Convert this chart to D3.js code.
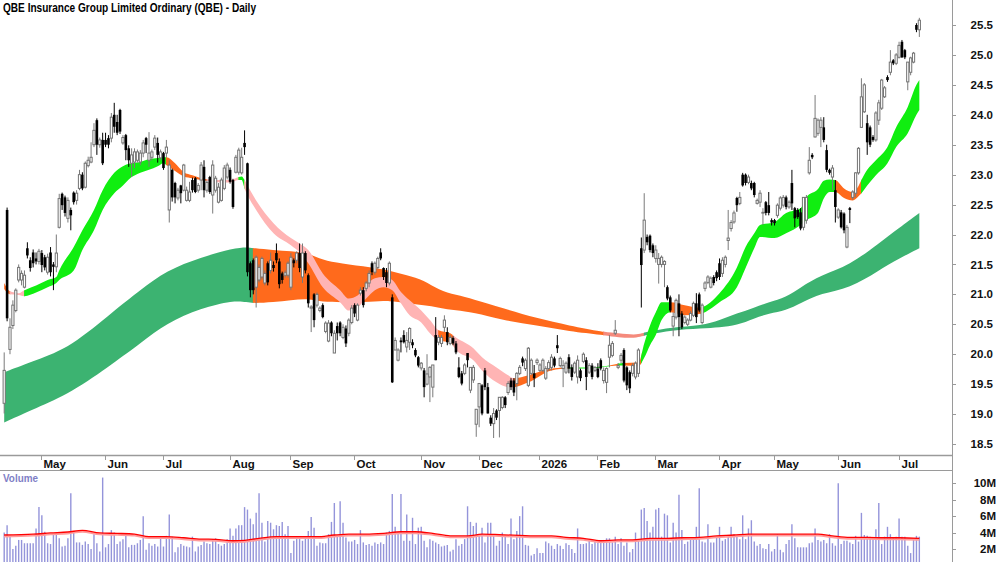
<!DOCTYPE html>
<html><head><meta charset="utf-8">
<script src="https://cdn.jsdelivr.net/npm/d3@7"></script>
<style>
html,body{margin:0;padding:0;background:#fff;}
svg{display:block;}
text{font-family:"Liberation Sans Narrow","Arial Narrow","Liberation Sans",Arial,sans-serif;font-weight:bold;}
</style></head><body>
<svg id="c" width="1000" height="562"></svg>
<script>
const title = "QBE Insurance Group Limited Ordinary (QBE) - Daily";

// daily candles [open, high, low, close]
const candles = [
[19.18,20.03,19.01,19.73],[22.41,22.45,20.55,20.6],[20.08,20.6,20.0,20.45],[20.48,20.9,20.42,20.82],[20.73,21.1,20.7,21.07],
[21.24,21.5,21.2,21.45],[21.24,21.4,21.15,21.35],[21.12,21.4,21.1,21.32],[21.77,21.87,21.6,21.65],[21.57,21.62,21.38,21.44],
[21.7,21.75,21.45,21.52],[21.6,21.7,21.5,21.55],[21.55,21.76,21.5,21.72],[21.69,21.74,21.37,21.49],[21.62,21.66,21.4,21.45],
[21.37,21.68,21.33,21.62],[21.7,21.79,21.3,21.37],[21.5,21.54,21.07,21.46],[21.46,22.0,21.37,21.69],[22.12,22.68,22.1,22.6],
[22.68,22.7,22.41,22.49],[22.62,22.65,22.3,22.36],[22.27,22.62,22.2,22.57],[22.41,22.45,22.07,22.32],[22.7,22.72,22.5,22.54],
[22.57,22.74,22.5,22.69],[22.77,23.08,22.74,23.0],[23.0,23.04,22.74,22.77],[22.79,23.22,22.77,23.19],[23.15,23.3,23.12,23.24],
[23.21,23.54,23.19,23.29],[23.5,23.86,23.46,23.74],[23.91,23.94,23.33,23.5],[23.5,23.62,23.45,23.58],[23.58,23.7,23.16,23.19],
[23.58,23.7,23.46,23.5],[23.61,23.66,23.44,23.5],[23.61,24.03,23.54,23.96],[24.0,24.2,23.7,23.8],[23.88,24.0,23.66,23.7],
[24.08,24.1,23.68,23.72],[23.53,23.66,23.5,23.62],[23.66,23.68,23.24,23.41],[23.44,23.49,23.13,23.24],[23.19,23.44,22.96,23.33],
[23.21,23.44,23.11,23.38],[23.24,23.42,23.2,23.38],[23.21,23.41,23.16,23.36],[23.36,23.58,23.29,23.53],[23.61,23.63,23.36,23.5],
[23.24,23.71,23.13,23.36],[23.29,23.42,23.24,23.38],[23.46,23.66,23.41,23.61],[23.53,23.62,23.2,23.33],[23.28,23.42,23.24,23.38],
[23.36,23.38,23.08,23.11],[23.36,23.58,23.29,23.46],[22.41,23.24,22.2,23.16],[23.08,23.1,22.55,22.62],[22.86,22.88,22.52,22.62],
[22.61,22.78,22.57,22.74],[22.82,22.83,22.52,22.69],[22.74,23.18,22.72,23.16],[22.57,22.8,22.55,22.74],[22.57,22.88,22.54,22.71],
[22.91,22.95,22.7,22.74],[22.94,22.96,22.69,22.71],[22.74,22.86,22.7,22.82],[22.91,23.21,22.74,23.16],[23.13,23.24,22.62,22.74],
[22.74,22.9,22.7,22.87],[22.96,22.98,22.68,22.71],[22.66,23.24,22.35,23.16],[22.74,22.98,22.7,22.94],[22.54,22.86,22.52,22.79],
[22.57,22.95,22.55,22.91],[22.77,23.16,22.74,23.11],[22.96,23.2,22.92,23.16],[23.08,23.12,22.85,22.88],[22.91,22.93,22.43,22.46],
[23.04,23.33,23.02,23.29],[23.04,23.45,23.0,23.41],[23.03,23.45,23.0,23.29],[23.53,23.74,23.33,23.46],[23.19,23.2,21.3,21.37],
[21.52,21.55,20.95,21.07],[21.57,21.6,21.0,21.07],[21.12,21.65,20.78,21.62],[21.24,21.5,21.2,21.45],[21.29,21.63,21.25,21.6],
[21.19,21.4,21.15,21.35],[21.52,21.55,21.15,21.2],[21.4,21.7,21.35,21.57],[21.49,21.55,21.38,21.44],[21.69,21.85,21.52,21.57],
[21.55,21.6,21.1,21.17],[21.35,21.38,21.18,21.24],[21.32,21.4,21.28,21.36],[21.32,21.55,21.28,21.52],[21.12,21.69,21.07,21.62],
[21.57,21.6,21.45,21.52],[21.57,21.72,21.52,21.69],[21.69,21.85,21.37,21.44],[21.29,21.85,21.19,21.69],[21.69,21.72,21.35,21.4],
[21.32,21.35,20.78,20.85],[20.77,20.82,20.37,20.79],[21.0,21.02,20.45,20.57],[20.82,21.03,20.78,21.0],[20.73,20.8,20.7,20.77],
[20.82,20.85,20.6,20.62],[20.38,20.55,20.35,20.52],[20.22,20.57,20.2,20.52],[20.53,20.55,20.3,20.35],[20.02,20.4,20.02,20.35],
[20.47,20.53,20.23,20.35],[20.53,20.55,20.3,20.35],[20.28,20.5,20.25,20.45],[20.43,20.48,20.12,20.18],[20.35,20.6,20.3,20.57],
[20.53,20.82,20.5,20.77],[20.82,20.85,20.62,20.68],[20.57,20.85,20.55,20.82],[21.02,21.12,20.98,21.07],[21.07,21.12,20.78,20.82],
[21.1,21.22,21.05,21.19],[21.19,21.4,21.12,21.35],[21.52,21.55,21.32,21.37],[21.37,21.55,21.33,21.52],[21.45,21.63,21.42,21.6],
[21.7,21.77,21.57,21.6],[21.44,21.45,21.24,21.29],[21.37,21.44,21.12,21.19],[21.19,21.55,21.15,21.52],[20.95,21.0,19.52,19.53],
[20.07,20.28,20.07,20.23],[19.9,20.1,19.88,20.07],[20.23,20.28,20.03,20.2],[20.32,20.4,20.18,20.2],[20.12,20.37,20.03,20.23],
[20.2,20.45,20.07,20.43],[20.2,20.25,20.1,20.15],[20.07,20.1,19.95,19.98],[19.95,19.97,19.78,19.81],[19.77,19.87,19.73,19.85],
[19.73,19.77,19.28,19.45],[19.5,20.0,19.48,19.67],[19.62,19.8,19.2,19.78],[19.45,19.82,19.28,19.82],[20.32,20.62,19.9,19.9],
[20.2,20.32,20.15,20.28],[20.18,20.32,20.12,20.28],[20.45,20.65,20.37,20.57],[20.37,20.45,20.15,20.2],[20.18,20.32,20.15,20.28],
[20.27,20.3,20.15,20.18],[20.18,20.22,20.0,20.03],[19.78,19.95,19.6,19.62],[19.68,19.72,19.48,19.51],[19.68,19.85,19.65,19.82],
[20.02,20.02,19.78,19.9],[19.4,19.78,19.35,19.78],[19.57,19.82,19.52,19.78],[18.83,19.08,18.62,19.08],[19.12,19.52,18.78,19.51],
[19.48,19.5,18.98,19.01],[19.73,19.77,19.4,19.45],[19.45,19.52,19.01,19.01],[18.94,18.98,18.8,18.84],[18.84,19.1,18.6,19.01],
[19.06,19.08,18.9,18.94],[19.06,19.28,18.61,19.28],[19.11,19.3,19.08,19.28],[19.28,19.3,19.1,19.15],[19.36,19.55,19.32,19.51],
[19.56,19.6,19.4,19.45],[19.56,19.6,19.3,19.36],[19.51,19.7,19.23,19.68],[19.68,19.82,19.65,19.78],[19.93,19.96,19.8,19.86],
[19.76,19.93,19.72,19.9],[19.48,20.12,19.45,20.1],[19.68,19.93,19.65,19.9],[19.68,19.82,19.45,19.6],[19.86,19.93,19.82,19.9],
[19.73,19.85,19.7,19.82],[19.73,19.93,19.7,19.9],[19.6,19.8,19.57,19.76],[19.76,19.9,19.72,19.86],[19.78,20.0,19.73,19.95],
[19.93,19.96,19.78,19.81],[20.15,20.32,20.02,20.1],[19.81,19.96,19.78,19.93],[19.76,19.9,19.45,19.81],[19.7,19.88,19.67,19.85],
[19.95,20.0,19.68,19.76],[19.78,19.83,19.56,19.62],[19.7,19.88,19.67,19.85],[19.62,19.98,19.51,19.9],[19.73,19.76,19.55,19.6],
[19.88,20.03,19.85,20.0],[19.9,19.95,19.4,19.62],[19.7,19.85,19.67,19.81],[19.81,19.85,19.58,19.62],[19.73,19.8,19.7,19.78],
[19.76,19.85,19.6,19.62],[19.9,19.93,19.73,19.76],[19.56,19.78,19.51,19.73],[19.53,19.78,19.35,19.76],[19.95,20.32,19.78,20.15],
[19.98,20.22,19.95,20.18],[20.35,20.57,20.32,20.4],[19.78,19.85,19.75,19.81],[19.9,20.02,19.85,19.98],[20.07,20.1,19.53,19.56],
[19.78,19.8,19.4,19.48],[19.7,19.73,19.35,19.43],[19.68,19.85,19.63,19.81],[19.62,19.88,19.58,19.85],[19.68,20.1,19.62,20.07],
[21.77,21.95,20.78,21.49],[21.74,22.69,21.69,22.24],[21.96,22.0,21.82,21.87],[21.98,22.0,21.7,21.74],[21.82,21.85,21.62,21.69],
[21.6,21.82,21.53,21.74],[21.5,21.69,21.18,21.6],[21.5,21.65,21.45,21.62],[21.5,21.57,21.12,21.55],[21.12,21.15,20.9,20.93],
[20.95,20.98,20.7,20.73],[20.47,20.7,20.3,20.63],[20.62,20.93,20.58,20.9],[20.85,21.0,20.3,20.62],[20.68,20.72,20.42,20.45],
[20.53,20.65,20.5,20.62],[20.5,20.6,20.47,20.57],[20.57,20.72,20.55,20.68],[20.65,20.88,20.62,20.85],[20.85,21.02,20.52,20.62],
[21.0,21.03,20.7,20.73],[20.53,20.85,20.5,20.82],[21.1,21.22,21.05,21.19],[21.2,21.32,21.17,21.29],[21.12,21.3,21.1,21.27],
[21.29,21.32,21.15,21.19],[21.37,21.4,21.22,21.27],[21.52,21.6,21.24,21.29],[21.35,21.62,21.29,21.57],[21.5,21.65,21.45,21.62],
[21.9,22.41,21.74,21.94],[22.1,22.24,22.05,22.2],[22.21,22.4,22.18,22.36],[22.61,22.63,22.38,22.49],[22.52,22.71,22.49,22.62],
[23.0,23.03,22.8,22.82],[23.0,23.02,22.82,22.86],[22.87,23.0,22.84,22.96],[22.86,22.9,22.74,22.77],[22.86,22.88,22.62,22.66],
[22.52,22.6,22.5,22.57],[22.54,22.74,22.46,22.69],[22.36,22.44,22.16,22.37],[22.54,22.56,22.32,22.36],[22.49,22.71,22.32,22.36],
[22.24,22.27,22.15,22.2],[22.24,22.26,22.15,22.19],[22.32,22.52,22.28,22.49],[22.44,22.64,22.4,22.61],[22.49,22.66,22.45,22.62],
[22.62,22.65,22.42,22.46],[22.46,22.57,22.43,22.54],[22.86,23.08,22.41,22.52],[22.44,22.46,22.12,22.27],[22.41,22.44,22.26,22.29],
[22.37,22.44,22.07,22.1],[22.12,22.62,22.07,22.62],[22.24,22.66,22.18,22.62],[23.03,23.46,23.0,23.24],[23.33,23.36,23.26,23.29],
[23.63,24.33,23.62,23.94],[23.69,23.94,23.65,23.91],[23.79,23.96,23.46,23.91],[23.79,23.96,23.54,23.58],[23.41,23.5,23.04,23.08],
[23.08,23.1,23.0,23.03],[22.96,23.16,22.74,23.11],[22.74,22.91,22.2,22.46],[22.29,22.44,22.26,22.41],[22.37,22.41,22.1,22.12],
[22.35,22.37,22.02,22.07],[21.79,22.16,21.77,22.12],[22.44,22.46,22.19,22.41],[22.62,22.74,22.58,22.71],[22.69,23.04,22.62,23.03],
[23.03,23.46,23.0,23.44],[23.79,24.61,23.78,24.3],[24.05,24.53,24.03,24.5],[23.86,24.0,23.33,23.54],[23.79,23.82,23.46,23.5],
[23.63,23.66,23.55,23.58],[23.58,24.06,23.55,24.03],[23.91,24.25,23.83,24.2],[24.11,24.6,24.08,24.58],[24.3,24.48,24.28,24.45],
[24.63,24.66,24.55,24.58],[24.71,25.08,24.66,24.88],[24.91,24.93,24.83,24.86],[24.86,25.03,24.83,25.0],[24.96,25.22,24.94,25.16],
[25.22,25.25,24.95,24.96],[25.08,25.1,24.93,24.96],[24.55,24.88,24.41,24.88],[24.71,24.97,24.66,24.95],[24.88,25.05,24.86,25.03],
[25.5,25.53,25.38,25.42],[25.42,25.62,25.3,25.58]
];

// daily volume, millions of shares
const volumes = [
4.0,4.9,3.6,2.0,2.4,3.1,3.1,2.7,2.7,2.7, 2.7,4.5,7.1,6.1,4.1,2.7,2.6,3.7,4.0,3.3,
2.3,2.4,3.3,8.8,4.2,2.8,2.8,2.5,2.9,2.6, 2.0,3.8,2.7,1.7,10.7,2.2,2.6,4.3,4.0,2.6,
2.9,3.2,3.9,2.2,2.5,2.5,2.7,3.1,6.0,1.9, 2.7,2.4,2.6,2.3,3.3,2.3,3.6,6.2,3.5,1.6,
2.2,2.6,2.4,2.3,2.2,3.5,1.7,2.3,2.5,2.9, 2.7,2.6,3.2,3.3,2.6,2.4,2.6,3.2,4.5,3.6,
4.5,4.9,4.9,7.1,6.8,5.7,5.0,6.4,8.8,5.2, 2.9,5.4,5.2,4.4,4.9,4.8,5.3,3.8,4.8,1.5,
3.0,3.3,3.3,3.0,3.4,4.2,5.9,4.6,2.4,2.8, 2.7,2.7,3.8,5.3,7.6,3.6,7.8,5.2,3.4,2.9,
2.9,3.1,2.6,4.3,2.8,2.5,2.6,2.4,2.8,2.6, 2.8,2.6,4.0,4.2,8.7,4.7,4.0,8.7,3.0,6.2,
3.0,5.8,2.6,4.6,4.7,3.0,2.2,3.2,3.0,2.8, 2.6,2.3,2.4,2.5,1.7,1.9,3.2,2.4,2.6,3.2,
7.2,5.3,4.8,5.2,3.7,4.6,2.8,5.2,5.2,3.8, 2.4,3.0,
4.0,3.6,2.6,5.7,3.2,4.2,6.0,7.2,2.5,2.4, 1.2,1.4,2.1,1.5,1.5,2.9,2.7,2.4,2.0,2.6,
2.4,2.0,2.7,2.5,2.0,1.5,4.5,2.6,2.6,2.7, 3.2,2.6,2.9,2.8,2.9,3.1,3.3,3.3,2.8,3.5,
2.6,3.3,2.4,2.8,1.6,2.0,4.0,3.0,6.8,7.0, 5.4,4.0,4.7,6.8,7.0,3.5,6.3,6.1,2.8,5.2,
4.0,8.6,4.3,2.6,2.9,3.1,3.2,4.7,9.4,2.9, 2.8,5.0,2.8,2.8,3.4,4.7,3.0,3.2,3.6,4.7,
3.8,3.6,3.2,6.1,3.2,4.5,5.5,2.9,2.4,2.6, 2.1,2.0,2.6,1.7,2.0,3.8,1.9,1.6,2.6,3.1,
5.0,3.3,2.2,2.2,2.2,2.2,2.7,2.8,4.5,3.1, 2.9,3.1,2.7,3.8,2.7,2.4,10.0,2.6,3.0,3.0,
2.8,2.6,3.6,2.9,6.4,3.7,3.6,3.5,3.2,4.4, 7.6,2.6,3.5,4.7,3.8,3.4,3.5,5.7,3.5,3.5,
2.4,1.5,3.1,3.6,3.5
];

// volume moving average [day index, millions]
const volMA = [[0,3.7],[10,3.8],[16,3.95],[22,4.07],[27,4.27],[33,3.95],[39,3.9],[45,3.82],[50,3.5],[56,3.5],
[62,3.37],[68,3.2],[73,3.18],[79,3.0],[83,3.05],[88,3.3],[94,3.5],[102,3.5],[108,3.5],[114,3.7],[119,3.8],
[125,3.8],[131,3.9],[137,4.1],[142,4.1],[148,3.9],[154,3.6],[160,3.6],[165,3.8],[171,3.75],[183,3.6],
[189,3.6],[194,3.42],[200,3.3],[206,3.0],[212,3.1],[217,3.1],[223,3.3],[229,3.3],[234,3.37],[240,3.42],
[246,3.6],[252,3.7],[257,3.82],[263,3.8],[269,3.8],[275,3.8],[281,3.8],[286,3.6],[292,3.42],[298,3.42],
[304,3.37],[309,3.37],[316,3.3]];

// short-term average ribbon [day index, upper, lower]
const stBand = [[0,21.19,21.09],[2,21.05,21.0],[5,21.02,20.99],[7,21.07,20.97],[11,21.15,21.03],[15,21.24,21.12],
[18,21.29,21.19],[19,21.4,21.24],[24,21.79,21.4],[27,22.07,21.74],[31,22.41,22.07],[34,22.74,22.41],[38,23.03,22.69],
[41,23.14,22.82],[43,23.18,22.92],[47,23.21,23.03],[50,23.26,23.08],[53,23.28,23.14],[55,23.29,23.19],[56,23.29,23.16],
[59,23.19,23.06],[62,23.04,22.97],[65,22.99,22.94],[68,22.94,22.91],[71,22.92,22.89],[75,22.91,22.87],[78,22.91,22.87],
[81,22.96,22.91],[82,22.97,22.91],[83,22.91,22.77],[84,22.82,22.66],[87,22.57,22.41],[93,22.19,22.02],[99,21.94,21.82],
[102,21.85,21.7],[105,21.74,21.52],[110,21.35,21.12],[116,21.07,20.87],[119,20.93,20.73],[122,20.98,20.78],
[125,21.15,20.93],[128,21.27,21.07],[131,21.29,21.12],[134,21.24,21.07],[137,21.04,20.85],[140,20.9,20.65],
[144,20.73,20.53],[147,20.57,20.35],[150,20.4,20.23],[154,20.35,20.2],[156,20.28,20.07],[162,20.1,19.9],
[165,19.95,19.73],[170,19.78,19.53],[174,19.65,19.45],[176,19.6,19.45],[181,19.65,19.53],[189,19.76,19.73],
[195,19.78,19.76],[202,19.78,19.76],[209,19.81,19.8],[213,19.85,19.81],[219,19.86,19.8],[221,20.18,19.94],
[223,20.48,20.15],[225,20.7,20.32],[227,20.87,20.57],[230,20.87,20.7],[235,20.82,20.65],[240,20.78,20.67],
[247,21.02,20.87],[253,21.45,21.12],[256,21.79,21.44],[259,22.02,21.77],[261,22.16,21.96],[266,22.21,21.94],
[270,22.36,22.02],[275,22.44,22.16],[277,22.62,22.24],[281,22.76,22.36],[283,22.9,22.6],[285,22.92,22.71],
[287,22.91,22.71],[290,22.77,22.61],[293,22.71,22.57],[295,22.81,22.64],[296,22.91,22.69],[298,23.08,22.82],
[301,23.24,22.99],[305,23.46,23.19],[308,23.79,23.46],[312,24.13,23.69],[315,24.5,24.0],[316,24.58,24.08]];

// long-term average ribbon [day index, upper, lower]
const ltBand = [[0,19.7,18.86],[11,19.9,19.1],[23,20.12,19.35],[38,20.73,19.86],[47,21.07,20.18],[56,21.4,20.52],
[68,21.62,20.77],[79,21.77,20.9],[84,21.79,20.87],[86,21.77,20.85],[93,21.74,20.87],[99,21.72,20.9],[105,21.69,20.93],
[110,21.57,20.87],[116,21.52,20.87],[127,21.45,20.87],[133,21.4,20.9],[139,21.32,20.85],[145,21.24,20.82],
[150,21.07,20.78],[156,20.99,20.73],[162,20.92,20.7],[172,20.77,20.57],[184,20.6,20.48],[195,20.48,20.38],
[207,20.37,20.32],[212,20.35,20.28],[218,20.32,20.27],[220,20.35,20.3],[223,20.38,20.33],[230,20.45,20.4],
[241,20.48,20.43],[247,20.57,20.45],[253,20.68,20.48],[259,20.78,20.6],[264,20.87,20.68],[270,20.95,20.73],
[275,21.12,20.85],[282,21.32,21.02],[292,21.49,21.1],[302,21.85,21.4],[309,22.11,21.6],[316,22.36,21.77]];

// ribbon colour phases [from day, to day, state]
const stPhases = [[0,2,"down"],[2,7,"weak"],[7,56,"up"],[56,70,"down"],[70,81,"weak"],[81,83,"up"],[83,150,"weak"],
[150,155,"down"],[155,176,"weak"],[176,195,"down"],[195,209,"up"],[209,212,"down"],[212,214,"up"],[214,220,"down"],
[220,230,"up"],[230,241,"down"],[241,287,"up"],[287,296,"down"],[296,316,"up"]];
const ltPhases = [[0,86,"up"],[86,207,"down"],[207,221,"weak"],[221,316,"up"]];

const monthLabels = ["May","Jun","Jul","Aug","Sep","Oct","Nov","Dec","2026","Feb","Mar","Apr","May","Jun","Jul"];
const monthStartIdx = [14,36,56,79,100,122,145,165,186,206,226,248,267,289,310];
const priceTicks = [18.5,19.0,19.5,20.0,20.5,21.0,21.5,22.0,22.5,23.0,23.5,24.0,24.5,25.0,25.5];
const volTicks = [2,4,6,8,10];
const volTickLabels = ["2M","4M","6M","8M","10M"];

const stColor = {up:"#10ee10", down:"#ff6a1c", weak:"#ffb4b4"};
const ltColor = {up:"#3cb371", down:"#ff6a1c", weak:"#f58a7c"};

const svg = d3.select("#c");
const W = 1000, H = 562;
const axisX = 952;
const priceBottom = 455, volTop = 470;

const x = d3.scaleLinear().domain([0, 316]).range([4.2, 4.2 + 2.896*316]);
const y = d3.scaleLinear().domain([18.5, 25.5]).range([444, 25]);
const yv = d3.scaleLinear().domain([0, 10]).range([565.4, 483.3]);

svg.append("rect").attr("width", W).attr("height", H).attr("fill", "#fff");

const defs = svg.append("defs");
defs.append("clipPath").attr("id","pclip").append("rect").attr("x",0).attr("y",0).attr("width",axisX).attr("height",priceBottom);
defs.append("clipPath").attr("id","vclip").append("rect").attr("x",0).attr("y",volTop+1).attr("width",axisX).attr("height",H-volTop);

const price = svg.append("g").attr("clip-path","url(#pclip)");

function drawBand(band, phases, colors, key, curve){
  const area = d3.area().x(d=>x(d[0])).y0(d=>y(d[2])).y1(d=>y(d[1])).curve(curve);
  const pathD = area(band);
  phases.forEach((p, k) => {
    const id = key + k;
    const x0 = x(p[0]) - (k === 0 ? 10 : 0.4), x1 = x(p[1]) + (k === phases.length-1 ? 10 : 0.4);
    defs.append("clipPath").attr("id", id).append("rect")
      .attr("x", x0).attr("y", 0).attr("width", x1 - x0).attr("height", priceBottom);
    price.append("path").attr("d", pathD).attr("fill", colors[p[2]]).attr("clip-path", `url(#${id})`);
  });
}
drawBand(ltBand, ltPhases, ltColor, "lt", d3.curveBasis);
drawBand(stBand, stPhases, stColor, "st", d3.curveMonotoneX);

// candles
const cg = price.append("g");
candles.forEach((d, i) => {
  const [o, h, l, c] = d;
  const cx = x(i);
  const up = c >= o;
  cg.append("line").attr("x1", cx).attr("x2", cx).attr("y1", y(h)).attr("y2", y(l))
    .attr("stroke", up ? "#7a7a7a" : "#000").attr("stroke-width", 1);
  if (up) {
    const t = y(c), b = y(o);
    cg.append("rect").attr("x", cx - 1.1).attr("y", t).attr("width", 2.2).attr("height", Math.max(0.8, b - t))
      .attr("fill", "#fff").attr("stroke", "#737373").attr("stroke-width", 1);
  } else {
    const t = y(o), b = y(c);
    cg.append("rect").attr("x", cx - 1.3).attr("y", t).attr("width", 2.6).attr("height", Math.max(1, b - t))
      .attr("fill", "#000");
  }
});

// volume
const vg = svg.append("g").attr("clip-path","url(#vclip)");
volumes.forEach((v, i) => {
  vg.append("line").attr("x1", x(i)).attr("x2", x(i)).attr("y1", yv(0)).attr("y2", yv(v))
    .attr("stroke", "#9494da").attr("stroke-width", 1.4);
});
const maLine = d3.line().x(d=>x(d[0])).y(d=>yv(d[1])).curve(d3.curveMonotoneX);
vg.append("path").attr("d", maLine(volMA)).attr("fill","none").attr("stroke","#ff9c9c").attr("stroke-width",2).attr("transform","translate(0,1.4)");
vg.append("path").attr("d", maLine(volMA)).attr("fill","none").attr("stroke","#ff0000").attr("stroke-width",1.3);

// frame lines
const lineCol = "#9a9a9a";
svg.append("line").attr("x1",0).attr("x2",axisX).attr("y1",priceBottom+0.5).attr("y2",priceBottom+0.5).attr("stroke",lineCol).attr("stroke-width",1.5);
svg.append("line").attr("x1",0).attr("x2",axisX).attr("y1",volTop+0.5).attr("y2",volTop+0.5).attr("stroke",lineCol).attr("stroke-width",1);
svg.append("line").attr("x1",axisX+0.5).attr("x2",axisX+0.5).attr("y1",0).attr("y2",H).attr("stroke",lineCol).attr("stroke-width",1);

// price axis
priceTicks.forEach(v => {
  svg.append("line").attr("x1",axisX).attr("x2",axisX+4).attr("y1",Math.round(y(v))+0.5).attr("y2",Math.round(y(v))+0.5).attr("stroke",lineCol);
  svg.append("text").attr("x",993).attr("y",y(v)).attr("dy","0.36em").attr("text-anchor","end")
    .attr("font-size",11.5).attr("fill","#111").text(v.toFixed(1));
});
// volume axis
volTicks.forEach((v, k) => {
  svg.append("line").attr("x1",axisX).attr("x2",axisX+4).attr("y1",Math.round(yv(v))+0.5).attr("y2",Math.round(yv(v))+0.5).attr("stroke",lineCol);
  svg.append("text").attr("x",996).attr("y",yv(v)).attr("dy","0.36em").attr("text-anchor","end")
    .attr("font-size",11.5).attr("fill","#111").text(volTickLabels[k]);
});
// month axis
monthLabels.forEach((m, k) => {
  const tx = Math.round(x(monthStartIdx[k]) - 3.4) + 0.5;
  svg.append("line").attr("x1",tx).attr("x2",tx).attr("y1",priceBottom).attr("y2",priceBottom+5).attr("stroke",lineCol);
  svg.append("text").attr("x",tx+2).attr("y",467.5).attr("font-size",11.5).attr("fill","#111").text(m);
});

// titles
svg.append("text").attr("x",3).attr("y",12).attr("font-size",12).attr("fill","#000")
  .attr("textLength",253).attr("lengthAdjust","spacingAndGlyphs").text(title);
svg.append("text").attr("x",3).attr("y",482).attr("font-size",11.5).attr("fill","#7f7fc6")
  .attr("textLength",35).attr("lengthAdjust","spacingAndGlyphs").text("Volume");
</script>
</body></html>
